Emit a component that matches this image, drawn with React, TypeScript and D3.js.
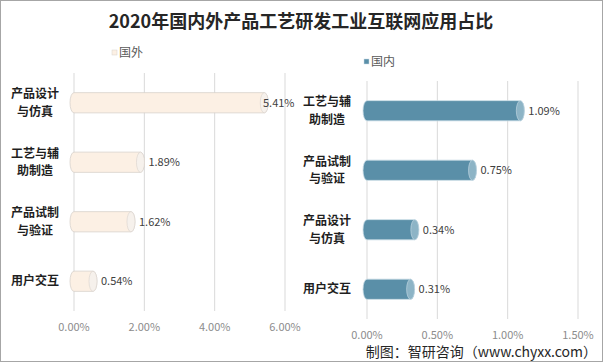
import React from 'react';
import * as d3 from 'd3';

// data
const foreignCats = ['产品设计\n与仿真', '工艺与辅\n助制造', '产品试制\n与验证', '用户交互'];
const foreignVals = [5.41, 1.89, 1.62, 0.54];
const domesticCats = ['工艺与辅\n助制造', '产品试制\n与验证', '产品设计\n与仿真', '用户交互'];
const domesticVals = [1.09, 0.75, 0.34, 0.31];
const foreignTicks = [0, 2, 4, 6];
const domesticTicks = [0, 0.5, 1, 1.5];

const W = 603;
const H = 362;
const FONT = '"Noto Sans CJK SC", "Noto Sans", sans-serif';

interface PanelProps {
  cats: string[];
  vals: number[];
  ticks: number[];
  x0: number;
  x1: number;
  y0: number;
  y1: number;
  tickY: number;
  labelX: number;
  fill: string;
  stroke: string;
  cap: string;
  legend: string;
  legendX: number;
  legendY: number;
  maxLabelX?: number;
}

const Panel: React.FC<PanelProps> = (p) => {
  const x = d3.scaleLinear().domain([p.ticks[0], p.ticks[p.ticks.length - 1]]).range([p.x0, p.x1]);
  const y = d3.scaleBand<string>().domain(p.cats).range([p.y0, p.y1]).paddingInner(0.66).paddingOuter(0.33);
  const bh = y.bandwidth();

  return (
    <g>
      {/* legend */}
      <rect x={p.legendX} y={p.legendY - 3} width={5} height={5} fill={p.fill} stroke={p.stroke} strokeWidth={0.5} />
      <text x={p.legendX + 7} y={p.legendY} dy="0.35em" fontSize={12} fill="#595959" fontFamily={FONT}>
        {p.legend}
      </text>

      {/* grid */}
      {p.ticks.map((t) => (
        <line key={t} x1={x(t)} x2={x(t)} y1={p.y0} y2={p.y1} stroke="#D9D9D9" strokeWidth={1} />
      ))}
      {p.ticks.map((t) => (
        <text key={'t' + t} x={x(t)} y={p.tickY} textAnchor="middle" dy="0.35em" fontSize={11} fill="#8C8C8C" fontFamily={FONT}>
          {t.toFixed(2) + '%'}
        </text>
      ))}

      {/* bars */}
      {p.cats.map((c, i) => {
        const yy = y(c)!;
        const xe = x(p.vals[i]);
        const rx = 4;
        const lines = c.split('\n');
        const cy = yy + bh / 2;
        return (
          <g key={c}>
            <path
              d={`M${x(0)},${yy} L${xe},${yy} A${rx},${bh / 2} 0 0 1 ${xe},${yy + bh} L${x(0)},${yy + bh} A${rx},${bh / 2} 0 0 1 ${x(0)},${yy} Z`}
              fill={p.fill}
              stroke={p.stroke}
              strokeWidth={0.8}
            />
            <ellipse cx={xe} cy={cy} rx={rx} ry={bh / 2} fill={p.cap} stroke={p.stroke} strokeWidth={0.6} />
            <text
              x={Math.min(xe + 8, p.maxLabelX ?? 9999)}
              y={cy}
              dy="0.35em"
              fontSize={11}
              fill="#404040"
              fontFamily={FONT}
            >
              {p.vals[i].toFixed(2) + '%'}
            </text>
            {lines.map((l, j) => (
              <text
                key={j}
                x={p.labelX}
                y={cy + (j - (lines.length - 1) / 2) * 17.6}
                dy="0.35em"
                textAnchor="middle"
                fontSize={12}
                fontWeight="bold"
                fill="#1F1F1F"
                fontFamily={FONT}
              >
                {l}
              </text>
            ))}
          </g>
        );
      })}
    </g>
  );
};

export default function App() {
  return (
    <svg width={W} height={H} style={{ position: 'absolute', left: 0, top: 0, background: '#fff' }}>
      <rect x={0.5} y={0.5} width={W - 1} height={H - 1} fill="#fff" stroke="#A6A6A6" />
      <text x={301} y={22} textAnchor="middle" dy="0.35em" fontSize={18} fontWeight="bold" fill="#262626" fontFamily={FONT}>
        2020年国内外产品工艺研发工业互联网应用占比
      </text>

      <Panel
        cats={foreignCats}
        vals={foreignVals}
        ticks={foreignTicks}
        x0={74}
        x1={285}
        y0={73}
        y1={311}
        tickY={327}
        labelX={35}
        fill="#FCF0E4"
        stroke="#D8D2CC"
        cap="#F6F1EC"
        legend="国外"
        legendX={112}
        legendY={53}
        maxLabelX={263}
      />
      <Panel
        cats={domesticCats}
        vals={domesticVals}
        ticks={domesticTicks}
        x0={367}
        x1={578}
        y0={81}
        y1={319}
        tickY={335}
        labelX={327}
        fill="#5A8FA8"
        stroke="#C9DCE6"
        cap="#8DB4C6"
        legend="国内"
        legendX={364}
        legendY={62}
      />

      <text x={597} y={352} textAnchor="end" dy="0.35em" fontSize={14} fill="#262626" fontFamily={FONT}>
        制图：智研咨询（www.chyxx.com）
      </text>
    </svg>
  );
}
